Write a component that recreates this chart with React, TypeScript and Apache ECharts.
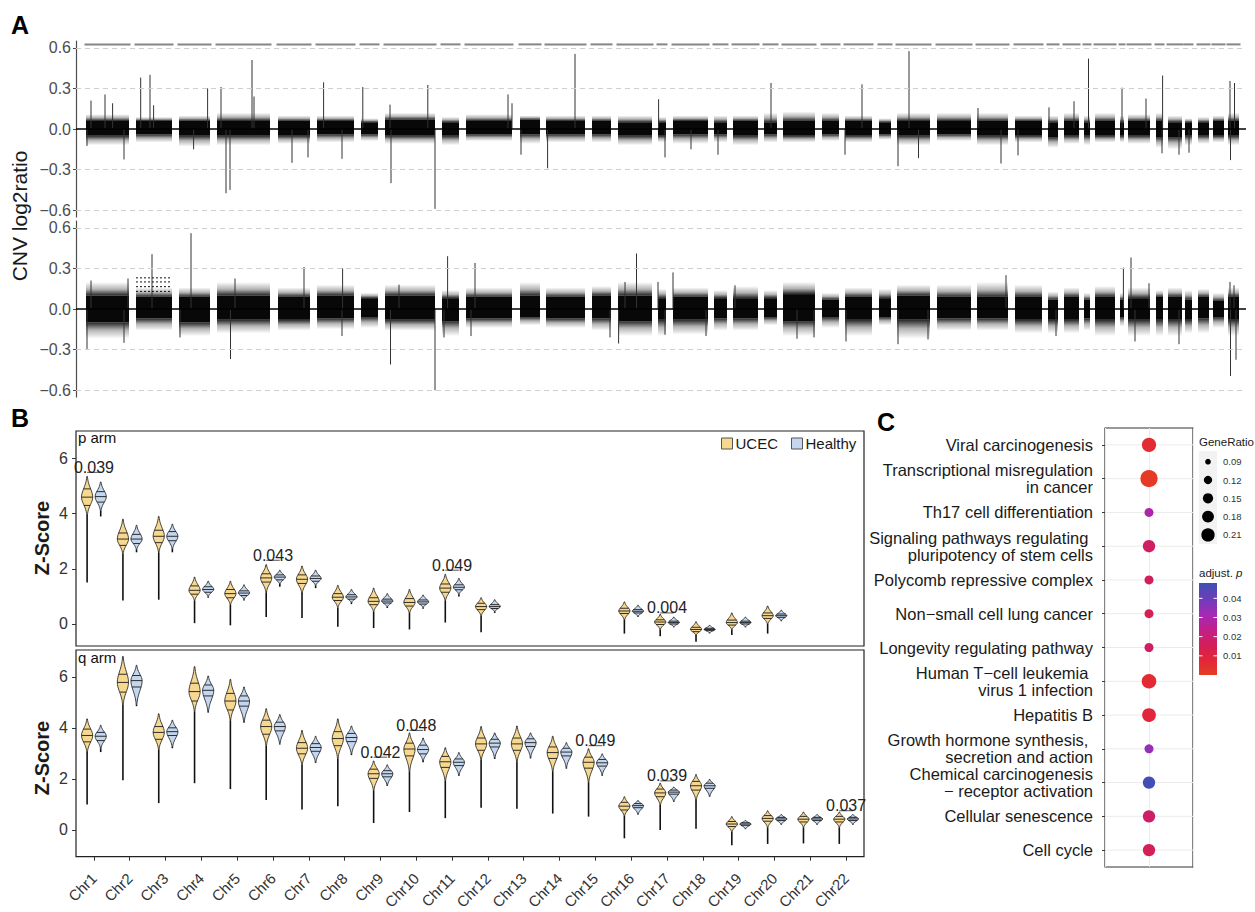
import React, { useEffect, useRef } from "react";
import * as echarts from "echarts";

const FONT = '"Liberation Sans", Arial, Helvetica, sans-serif';

// ---------------- Panel A : CNV log2ratio ----------------
const segStart = [10, 60, 103, 141, 202, 241, 285, 309, 366, 390, 444, 470, 516, 542, 582, 597, 638, 657, 688, 707, 746, 769, 803, 821, 861, 901, 939, 972, 988, 1008, 1019, 1044, 1052, 1080, 1092, 1109, 1122, 1137, 1152];
const segEnd = [53, 96, 134, 194, 234, 278, 302, 359, 383, 436, 464, 509, 535, 576, 590, 632, 651, 682, 701, 739, 763, 796, 815, 854, 895, 932, 966, 982, 1003, 1014, 1039, 1048, 1074, 1087, 1106, 1116, 1133, 1148, 1163];
// [outer low, core low, core high, outer high]
const topBand = [
  [-0.12, -0.05, 0.06, 0.11], [-0.1, -0.04, 0.06, 0.09], [-0.13, -0.05, 0.06, 0.1], [-0.12, -0.05, 0.06, 0.12],
  [-0.11, -0.05, 0.06, 0.1], [-0.1, -0.04, 0.06, 0.1], [-0.09, -0.04, 0.05, 0.08], [-0.11, -0.05, 0.07, 0.12],
  [-0.12, -0.05, 0.05, 0.09], [-0.09, -0.04, 0.06, 0.11], [-0.11, -0.04, 0.07, 0.1], [-0.1, -0.04, 0.06, 0.1],
  [-0.1, -0.04, 0.06, 0.1], [-0.12, -0.05, 0.05, 0.1], [-0.1, -0.05, 0.05, 0.09], [-0.11, -0.04, 0.06, 0.1],
  [-0.1, -0.04, 0.05, 0.1], [-0.12, -0.05, 0.06, 0.1], [-0.1, -0.04, 0.05, 0.12], [-0.1, -0.05, 0.06, 0.13],
  [-0.09, -0.04, 0.06, 0.12], [-0.1, -0.05, 0.06, 0.1], [-0.08, -0.04, 0.05, 0.08], [-0.12, -0.05, 0.06, 0.12],
  [-0.09, -0.04, 0.06, 0.12], [-0.12, -0.05, 0.06, 0.12], [-0.1, -0.05, 0.06, 0.1], [-0.14, -0.06, 0.05, 0.1],
  [-0.11, -0.05, 0.06, 0.12], [-0.12, -0.05, 0.05, 0.1], [-0.1, -0.05, 0.06, 0.12], [-0.1, -0.05, 0.05, 0.1],
  [-0.11, -0.05, 0.06, 0.11], [-0.14, -0.06, 0.06, 0.12], [-0.15, -0.06, 0.05, 0.1], [-0.12, -0.05, 0.05, 0.08],
  [-0.11, -0.05, 0.05, 0.09], [-0.1, -0.05, 0.06, 0.1], [-0.12, -0.05, 0.06, 0.12],
];
const bottomBand = [
  [-0.22, -0.1, 0.1, 0.2], [-0.16, -0.07, 0.09, 0.16], [-0.2, -0.1, 0.09, 0.16], [-0.18, -0.08, 0.1, 0.2],
  [-0.16, -0.08, 0.09, 0.16], [-0.15, -0.07, 0.1, 0.18], [-0.14, -0.06, 0.08, 0.12], [-0.16, -0.08, 0.1, 0.18],
  [-0.2, -0.09, 0.08, 0.14], [-0.14, -0.07, 0.09, 0.16], [-0.12, -0.06, 0.1, 0.2], [-0.14, -0.07, 0.09, 0.16],
  [-0.16, -0.07, 0.1, 0.17], [-0.2, -0.09, 0.1, 0.2], [-0.2, -0.08, 0.08, 0.15], [-0.19, -0.08, 0.09, 0.16],
  [-0.16, -0.07, 0.08, 0.14], [-0.16, -0.07, 0.08, 0.17], [-0.12, -0.06, 0.08, 0.14], [-0.2, -0.09, 0.11, 0.2],
  [-0.14, -0.06, 0.07, 0.12], [-0.2, -0.08, 0.09, 0.16], [-0.12, -0.06, 0.08, 0.15], [-0.22, -0.08, 0.1, 0.18],
  [-0.16, -0.07, 0.09, 0.18], [-0.16, -0.07, 0.09, 0.2], [-0.18, -0.08, 0.09, 0.18], [-0.18, -0.08, 0.07, 0.13],
  [-0.18, -0.08, 0.09, 0.16], [-0.16, -0.07, 0.07, 0.12], [-0.2, -0.08, 0.09, 0.17], [-0.13, -0.06, 0.07, 0.12],
  [-0.2, -0.08, 0.08, 0.16], [-0.2, -0.08, 0.09, 0.14], [-0.2, -0.08, 0.09, 0.16], [-0.18, -0.08, 0.07, 0.14],
  [-0.18, -0.07, 0.09, 0.15], [-0.14, -0.06, 0.06, 0.12], [-0.2, -0.08, 0.09, 0.16],
];
const topSpikes = [
  [15, 0.21], [29, 0.255], [36.6, 0.19], [11, -0.125], [48, -0.225], [64.7, 0.38], [74, 0.4], [77.6, 0.175],
  [131.6, 0.3], [117.6, -0.15], [145, 0.31], [150, -0.475], [154, -0.45], [176, 0.51], [178, 0.24],
  [216, -0.25], [232, -0.21], [247.6, 0.345], [266, -0.22], [286.8, 0.31], [314, 0.18], [315, -0.4],
  [351.8, 0.325], [359, -0.59], [432, 0.255], [436, 0.19], [445, -0.19], [499, 0.555], [471.6, -0.29],
  [582.6, 0.22], [589, -0.21], [615, -0.15], [642, -0.19], [695, 0.34], [769, -0.19], [786, 0.33],
  [822, -0.275], [833, 0.575], [842.5, -0.215], [902, 0.155], [925, -0.255], [942, -0.195], [973, 0.16],
  [998, 0.205], [1012.5, 0.52], [1046, 0.305], [1070, 0.225], [1086.6, 0.395], [1086, -0.18],
  [1103, -0.19], [1113, -0.175], [1154, 0.355], [1154.5, -0.23], [1158.5, 0.34],
];
const bottomSpikes = [
  [11, -0.295], [15, 0.21], [48, -0.25], [52, 0.225], [76, 0.405], [115, 0.56], [104, -0.21],
  [154.5, -0.37], [159, 0.225], [228, 0.31], [266.6, 0.3], [266, -0.2], [314.5, -0.41], [323, 0.18],
  [359, -0.6], [371.6, 0.39], [368, -0.21], [399, 0.34], [395, -0.2], [534, -0.21], [542.6, -0.255],
  [560.5, 0.41], [549, 0.2], [582, 0.2], [589, -0.19], [597, 0.27], [630, -0.2], [659, 0.175],
  [721, -0.22], [738, -0.21], [770, -0.24], [822, -0.26], [852, -0.225], [930, 0.25], [980, -0.2],
  [1047.4, 0.305], [1055, 0.38], [1059, -0.24], [1073, 0.19], [1103, -0.26], [1154, 0.2],
  [1154.5, -0.495], [1158, 0.175], [1160, -0.375],
];
const bottomClusterSeg = 1;
const bottomClusterLevels = [0.13, 0.165, 0.2, 0.23];
const cnvTicks = [-0.6, -0.3, 0, 0.3, 0.6];
const cnvGrid = [0.6, 0.3, -0.3, -0.6];

// ---------------- Panel B : Z-Score violins ----------------
const chromosomes = ["Chr1", "Chr2", "Chr3", "Chr4", "Chr5", "Chr6", "Chr7", "Chr8", "Chr9", "Chr10", "Chr11", "Chr12", "Chr13", "Chr14", "Chr15", "Chr16", "Chr17", "Chr18", "Chr19", "Chr20", "Chr21", "Chr22"];
// [top, q3, median, q1, body bottom, tail end]
const pUcec = [
  [5.35, 4.9, 4.6, 4.3, 3.95, 1.5], [3.8, 3.3, 3.08, 2.85, 2.55, 0.85], [3.9, 3.4, 3.18, 2.95, 2.6, 0.88],
  [1.7, 1.38, 1.22, 1.08, 0.85, 0.03], [1.55, 1.25, 1.1, 0.95, 0.7, -0.05], [2.15, 1.82, 1.67, 1.52, 1.15, 0.25],
  [2.1, 1.78, 1.62, 1.47, 1.12, 0.22], [1.4, 1.1, 0.97, 0.85, 0.6, -0.1], [1.3, 0.95, 0.82, 0.7, 0.45, -0.15],
  [1.25, 0.92, 0.78, 0.65, 0.4, -0.2], [1.8, 1.45, 1.3, 1.15, 0.85, 0.05], [0.95, 0.75, 0.63, 0.52, 0.3, -0.3],
  null, null, null,
  [0.8, 0.57, 0.47, 0.38, 0.15, -0.35], [0.35, 0.15, 0.07, -0.02, -0.2, -0.45], [0.08, -0.12, -0.2, -0.28, -0.4, -0.65],
  [0.4, 0.14, 0.05, -0.04, -0.2, -0.4], [0.65, 0.4, 0.3, 0.2, 0.0, -0.35], null, null,
];
const pHealthy = [
  [5.15, 4.8, 4.62, 4.42, 4.1, 3.9], [3.58, 3.25, 3.08, 2.92, 2.7, 2.6], [3.62, 3.35, 3.18, 3.02, 2.72, 2.6],
  [1.55, 1.35, 1.25, 1.15, 1.0, 0.95], [1.42, 1.2, 1.12, 1.03, 0.9, 0.85], [1.95, 1.78, 1.7, 1.6, 1.45, 1.35],
  [1.95, 1.74, 1.65, 1.55, 1.4, 1.3], [1.25, 1.06, 0.98, 0.9, 0.78, 0.72], [1.1, 0.9, 0.83, 0.76, 0.62, 0.58],
  [1.05, 0.87, 0.8, 0.72, 0.6, 0.55], [1.65, 1.42, 1.33, 1.24, 1.08, 1.0], [0.88, 0.7, 0.63, 0.56, 0.45, 0.4],
  null, null, null,
  [0.68, 0.52, 0.46, 0.4, 0.28, 0.25], [0.25, 0.1, 0.05, 0.0, -0.1, -0.12], [-0.05, -0.16, -0.2, -0.24, -0.32, -0.34],
  [0.25, 0.1, 0.05, 0.0, -0.1, -0.12], [0.5, 0.36, 0.3, 0.24, 0.12, 0.1], null, null,
];
const qUcec = [
  [4.35, 3.95, 3.7, 3.45, 3.05, 1.0], [6.8, 6.1, 5.78, 5.4, 4.9, 1.95], [4.55, 4.05, 3.82, 3.55, 3.15, 1.05],
  [6.4, 5.75, 5.42, 5.05, 4.65, 1.83], [5.9, 5.35, 5.05, 4.7, 4.3, 1.6], [4.75, 4.3, 4.05, 3.75, 3.3, 1.17],
  [3.9, 3.42, 3.2, 2.98, 2.55, 0.8], [4.35, 3.85, 3.58, 3.3, 2.8, 0.93], [2.7, 2.38, 2.2, 2.02, 1.55, 0.27],
  [3.8, 3.4, 3.17, 2.9, 2.3, 0.7], [3.22, 2.88, 2.67, 2.45, 1.92, 0.46], [4.05, 3.6, 3.37, 3.12, 2.75, 0.87],
  [4.07, 3.6, 3.37, 3.12, 2.67, 0.83], [3.67, 3.25, 3.03, 2.8, 2.3, 0.64], [3.18, 2.85, 2.65, 2.42, 1.87, 0.52],
  [1.3, 1.08, 0.93, 0.78, 0.55, -0.33], [1.83, 1.6, 1.45, 1.3, 0.98, 0.0], [2.17, 1.9, 1.73, 1.56, 1.17, 0.04],
  [0.52, 0.33, 0.23, 0.13, -0.07, -0.6], [0.75, 0.56, 0.45, 0.34, 0.1, -0.55], [0.7, 0.53, 0.42, 0.31, 0.1, -0.53],
  [0.7, 0.53, 0.42, 0.31, 0.1, -0.55],
];
const qHealthy = [
  [4.1, 3.82, 3.67, 3.5, 3.2, 3.05], [6.45, 6.05, 5.85, 5.6, 4.9, 4.85], [4.3, 4.0, 3.85, 3.7, 3.25, 3.2],
  [6.03, 5.68, 5.47, 5.25, 4.62, 4.6], [5.6, 5.25, 5.05, 4.85, 4.22, 4.2], [4.52, 4.22, 4.05, 3.88, 3.38, 3.35],
  [3.67, 3.38, 3.23, 3.08, 2.65, 2.62], [4.07, 3.78, 3.62, 3.46, 2.97, 2.93], [2.55, 2.32, 2.2, 2.08, 1.75, 1.72],
  [3.6, 3.32, 3.15, 2.98, 2.7, 2.65], [3.03, 2.78, 2.65, 2.52, 2.15, 2.12], [3.8, 3.55, 3.4, 3.25, 2.82, 2.78],
  [3.8, 3.57, 3.42, 3.27, 2.85, 2.8], [3.42, 3.2, 3.05, 2.9, 2.45, 2.4], [2.98, 2.76, 2.63, 2.5, 2.17, 2.12],
  [1.15, 1.03, 0.95, 0.87, 0.62, 0.6], [1.68, 1.56, 1.48, 1.4, 1.12, 1.1], [1.98, 1.83, 1.73, 1.63, 1.32, 1.3],
  [0.37, 0.28, 0.23, 0.18, 0.05, 0.03], [0.6, 0.49, 0.43, 0.37, 0.22, 0.2], [0.6, 0.49, 0.43, 0.37, 0.22, 0.2],
  [0.6, 0.49, 0.43, 0.37, 0.22, 0.2],
];
const pSigChr = [0, 5, 10, 16];
const pSigY = [5.5, 2.31, 1.95, 0.4];
const pSigLabel = ["0.039", "0.043", "0.049", "0.004"];
const qSigChr = [8, 9, 14, 16, 21];
const qSigY = [2.85, 3.9, 3.3, 1.92, 0.75];
const qSigLabel = ["0.042", "0.048", "0.049", "0.039", "0.037"];
const zTicks = [0, 2, 4, 6];

// ---------------- Panel C : KEGG enrichment ----------------
const pathways = [
  "Viral carcinogenesis",
  "Transcriptional misregulation\nin cancer",
  "Th17 cell differentiation",
  "Signaling pathways regulating \npluripotency of stem cells",
  "Polycomb repressive complex",
  "Non\u2212small cell lung cancer",
  "Longevity regulating pathway",
  "Human T\u2212cell leukemia \nvirus 1 infection",
  "Hepatitis B",
  "Growth hormone synthesis, \nsecretion and action",
  "Chemical carcinogenesis\n\u2212 receptor activation",
  "Cellular senescence",
  "Cell cycle",
];
const geneRatio = [0.23, 0.31, 0.13, 0.19, 0.13, 0.13, 0.13, 0.24, 0.22, 0.13, 0.19, 0.19, 0.19];
const padj = [0.006, 0.001, 0.029, 0.017, 0.016, 0.014, 0.017, 0.006, 0.008, 0.034, 0.047, 0.018, 0.015];
const geneRatioBreaks = [0.09, 0.12, 0.15, 0.18, 0.21];
const padjBreaks = [0.04, 0.03, 0.02, 0.01];
const padjMax = 0.048;
const padjColors = ["#E53D22", "#E2253A", "#D21E5C", "#C11F8C", "#A22AB6", "#6C3DBA", "#3D51B3"];

const UCEC_FILL = "#F7D890";
const HEALTHY_FILL = "#C4D7EE";

const dotSize = (r: number) => Math.sqrt(32.5 + (r - 0.09) * 1204);
const fmtCnv = (v: number) => (v < 0 ? "\u2212" : "") + Math.abs(v).toFixed(1);

function violinRender(side: number, fill: string) {
  return (params: any, api: any) => {
    const ci = api.value(0);
    const top = api.value(1), q3 = api.value(2), med = api.value(3), q1 = api.value(4), bot = api.value(5), tail = api.value(6);
    const band = api.size([1, 0])[0];
    const cx = api.coord([ci, med])[0] + side * band * 0.19;
    const Y = (v: number) => api.coord([ci, v])[1];
    const W = 5.6;
    const sUp = (top - med) / 2.4, sDn = (med - bot) / 2.4;
    const hw = (v: number) => {
      const s = v >= med ? sUp : sDn;
      const z = s > 0 ? (v - med) / s : 0;
      return W * Math.exp(-0.5 * z * z);
    };
    const right: number[][] = [];
    const N = 10;
    for (let i = 0; i <= N; i++) { const v = bot + ((med - bot) * i) / N; right.push([cx + hw(v), Y(v)]); }
    for (let i = 1; i <= N; i++) { const v = med + ((top - med) * i) / N; right.push([cx + hw(v), Y(v)]); }
    const pts = right.concat(right.slice().reverse().map((p) => [2 * cx - p[0], p[1]]));
    const children: any[] = [
      { type: "line", shape: { x1: cx, y1: Y(bot), x2: cx, y2: Y(tail) }, style: { stroke: "#111", lineWidth: 1.6 } },
      { type: "polygon", shape: { points: pts }, style: { fill, stroke: "#1a1a1a", lineWidth: 0.8 } },
    ];
    [q1, med, q3].forEach((v) => {
      const w = hw(v);
      children.push({ type: "line", shape: { x1: cx - w, y1: Y(v), x2: cx + w, y2: Y(v) }, style: { stroke: "#1a1a1a", lineWidth: 0.9 } });
    });
    return { type: "group", children };
  };
}

function sigRender(labels: string[]) {
  return (params: any, api: any) => {
    const ci = api.value(0);
    const y = api.value(1);
    const band = api.size([1, 0])[0];
    const p = api.coord([ci, y]);
    const dx = band * 0.19;
    return {
      type: "group",
      children: [
        { type: "line", shape: { x1: p[0] - dx, y1: p[1], x2: p[0] + dx, y2: p[1] }, style: { stroke: "#555", lineWidth: 1 } },
        {
          type: "text", x: p[0], y: p[1] + 3,
          style: { text: labels[params.dataIndex], fontSize: 16, fontFamily: FONT, fill: "#222", align: "center", textAlign: "center", verticalAlign: "bottom", textVerticalAlign: "bottom" },
        },
      ],
    };
  };
}

const fadeUp = { type: "linear", x: 0, y: 0, x2: 0, y2: 1, colorStops: [{ offset: 0, color: "rgba(0,0,0,0)" }, { offset: 0.55, color: "rgba(0,0,0,0.3)" }, { offset: 1, color: "rgba(0,0,0,0.85)" }] };
const fadeDown = { type: "linear", x: 0, y: 0, x2: 0, y2: 1, colorStops: [{ offset: 0, color: "rgba(0,0,0,0.85)" }, { offset: 0.45, color: "rgba(0,0,0,0.3)" }, { offset: 1, color: "rgba(0,0,0,0)" }] };

function bandRender(params: any, api: any) {
  const s = api.value(0), e = api.value(1), lo2 = api.value(2), lo = api.value(3), hi = api.value(4), hi2 = api.value(5);
  const xs = api.coord([s, 0])[0], xe = api.coord([e, 0])[0];
  const yHi2 = api.coord([s, hi2])[1], yHi = api.coord([s, hi])[1], yLo = api.coord([s, lo])[1], yLo2 = api.coord([s, lo2])[1];
  return {
    type: "group",
    children: [
      { type: "rect", shape: { x: xs, y: yHi2, width: xe - xs, height: yHi - yHi2 }, style: { fill: fadeUp } },
      { type: "rect", shape: { x: xs, y: yLo, width: xe - xs, height: yLo2 - yLo }, style: { fill: fadeDown } },
      { type: "rect", shape: { x: xs, y: yHi, width: xe - xs, height: yLo - yHi }, style: { fill: "#080808" } },
    ],
  };
}

function spikeRender(params: any, api: any) {
  const a = api.coord([api.value(0), 0]);
  const b = api.coord([api.value(0), api.value(1)]);
  return { type: "line", shape: { x1: a[0], y1: a[1], x2: b[0], y2: b[1] }, style: { stroke: "#333", lineWidth: 1 } };
}

function hlineRender(dash: number[] | null, color: string, width: number, pad: number) {
  return (params: any, api: any) => {
    const a = api.coord([api.value(0), api.value(2)]);
    const b = api.coord([api.value(1), api.value(2)]);
    return { type: "line", shape: { x1: a[0] - pad, y1: a[1], x2: b[0] + pad, y2: b[1] }, style: { stroke: color, lineWidth: width, lineDash: dash || undefined } };
  };
}

function buildOption() {
  const bandData = (bands: number[][]) => segStart.map((s, i) => [s, segEnd[i], bands[i][0], bands[i][1], bands[i][2], bands[i][3]]);
  const gridMarks = {
    silent: true,
    symbol: ["none", "none"],
    label: { show: false },
    data: [
      ...cnvGrid.map((v) => ({ yAxis: v, lineStyle: { color: "#CFCFCF", type: [5, 4], width: 1 } })),
      { yAxis: 0, lineStyle: { color: "#000", type: "solid", width: 1.6 } },
    ],
  };
  const violinData = (arr: (number[] | null)[]) => arr.map((r, i) => (r ? [i, ...r] : null)).filter((r) => r) as number[][];

  const series: any[] = [];
  // Panel A top
  series.push({ type: "custom", name: "bandTop", xAxisIndex: 0, yAxisIndex: 0, renderItem: bandRender, data: bandData(topBand), encode: { x: [0, 1], y: [2, 5] }, silent: true, markLine: gridMarks, z: 2 });
  series.push({ type: "custom", name: "spikeTop", xAxisIndex: 0, yAxisIndex: 0, renderItem: spikeRender, data: topSpikes, encode: { x: 0, y: 1 }, silent: true, z: 3 });
  series.push({ type: "custom", name: "chromTop", xAxisIndex: 0, yAxisIndex: 0, renderItem: hlineRender(null, "#858585", 2, 1.5), data: segStart.map((s, i) => [s, segEnd[i], 0.625]), encode: { x: [0, 1], y: 2 }, silent: true, z: 3 });
  // Panel A bottom
  series.push({ type: "custom", name: "bandBottom", xAxisIndex: 1, yAxisIndex: 1, renderItem: bandRender, data: bandData(bottomBand), encode: { x: [0, 1], y: [2, 5] }, silent: true, markLine: gridMarks, z: 2 });
  series.push({ type: "custom", name: "spikeBottom", xAxisIndex: 1, yAxisIndex: 1, renderItem: spikeRender, data: bottomSpikes, encode: { x: 0, y: 1 }, silent: true, z: 3 });
  series.push({
    type: "custom", name: "clusterBottom", xAxisIndex: 1, yAxisIndex: 1, renderItem: hlineRender([2, 2], "#111", 1, 0),
    data: bottomClusterLevels.map((v) => [segStart[bottomClusterSeg], segEnd[bottomClusterSeg], v]), encode: { x: [0, 1], y: 2 }, silent: true, z: 3,
  });
  // Panel B
  series.push({ type: "custom", name: "UCEC", xAxisIndex: 2, yAxisIndex: 2, renderItem: violinRender(-1, UCEC_FILL), data: violinData(pUcec), encode: { x: 0, y: [1, 6] }, itemStyle: { color: UCEC_FILL }, silent: true, z: 3 });
  series.push({ type: "custom", name: "Healthy", xAxisIndex: 2, yAxisIndex: 2, renderItem: violinRender(1, HEALTHY_FILL), data: violinData(pHealthy), encode: { x: 0, y: [1, 6] }, itemStyle: { color: HEALTHY_FILL }, silent: true, z: 3 });
  series.push({ type: "custom", name: "sigP", xAxisIndex: 2, yAxisIndex: 2, renderItem: sigRender(pSigLabel), data: pSigChr.map((c, i) => [c, pSigY[i]]), encode: { x: 0, y: 1 }, silent: true, z: 4 });
  series.push({ type: "custom", name: "UCEC", xAxisIndex: 3, yAxisIndex: 3, renderItem: violinRender(-1, UCEC_FILL), data: violinData(qUcec), encode: { x: 0, y: [1, 6] }, itemStyle: { color: UCEC_FILL }, silent: true, z: 3 });
  series.push({ type: "custom", name: "Healthy", xAxisIndex: 3, yAxisIndex: 3, renderItem: violinRender(1, HEALTHY_FILL), data: violinData(qHealthy), encode: { x: 0, y: [1, 6] }, itemStyle: { color: HEALTHY_FILL }, silent: true, z: 3 });
  series.push({ type: "custom", name: "sigQ", xAxisIndex: 3, yAxisIndex: 3, renderItem: sigRender(qSigLabel), data: qSigChr.map((c, i) => [c, qSigY[i]]), encode: { x: 0, y: 1 }, silent: true, z: 4 });
  // Panel C
  series.push({
    type: "custom", name: "gridC", xAxisIndex: 4, yAxisIndex: 4, silent: true, z: 1,
    renderItem: (params: any, api: any) => {
      const cs = params.coordSys;
      const y = api.coord([1, api.value(0)])[1];
      return { type: "line", shape: { x1: cs.x, y1: y, x2: cs.x + cs.width, y2: y }, style: { stroke: "#EBEBEB", lineWidth: 1 } };
    },
    data: pathways.map((_, i) => [i]), encode: { y: 0 },
  });
  const scatterIndex = series.length;
  series.push({
    type: "scatter", name: "kegg", xAxisIndex: 4, yAxisIndex: 4, silent: true, z: 5,
    data: pathways.map((_, i) => [1, i, geneRatio[i], padj[i]]),
    encode: { x: 0, y: 1 },
    symbolSize: (v: number[]) => dotSize(v[2]),
    itemStyle: { opacity: 1 },
  });

  // graphic
  const g: any[] = [];
  const txt = (text: string, x: number, y: number, font: string, fill: string, align = "left", valign = "middle", rotation = 0) => ({
    type: "text", x, y, rotation, silent: true,
    style: { text, font, fill, textAlign: align, align, textVerticalAlign: valign, verticalAlign: valign },
  });
  g.push(txt("A", 11, 25, `bold 25px ${FONT}`, "#000"));
  g.push(txt("B", 11, 418, `bold 25px ${FONT}`, "#000"));
  g.push(txt("C", 877, 422, `bold 25px ${FONT}`, "#000"));
  g.push(txt("CNV log2ratio", 19, 216, `21px ${FONT}`, "#1a1a1a", "center", "middle", Math.PI / 2));
  g.push(txt("Z-Score", 42, 538, `bold 20px ${FONT}`, "#1a1a1a", "center", "middle", Math.PI / 2));
  g.push(txt("Z-Score", 42, 758, `bold 20px ${FONT}`, "#1a1a1a", "center", "middle", Math.PI / 2));
  g.push(txt("p arm", 78, 437, `15px ${FONT}`, "#111"));
  g.push(txt("q arm", 78, 657, `15px ${FONT}`, "#111"));
  // GeneRatio legend
  g.push(txt("GeneRatio", 1199, 442, `11.5px ${FONT}`, "#1a1a1a"));
  g.push({ type: "rect", silent: true, shape: { x: 1199, y: 451, width: 18, height: 93 }, style: { fill: "#F2F2F2" } });
  geneRatioBreaks.forEach((r, i) => {
    const y = 461.7 + i * 18.3;
    g.push({ type: "circle", silent: true, shape: { cx: 1208, cy: y, r: dotSize(r) / 2 }, style: { fill: "#000" } });
    g.push(txt(r.toFixed(2), 1223, y, `9.5px ${FONT}`, "#333"));
  });
  // adjust. p colorbar
  g.push({
    type: "text", x: 1199, y: 573, silent: true,
    style: {
      text: "{a|adjust. }{b|p}", fill: "#1a1a1a", textVerticalAlign: "middle", verticalAlign: "middle",
      rich: { a: { fontSize: 11.5, fontFamily: FONT, fill: "#1a1a1a" }, b: { fontSize: 11.5, fontFamily: FONT, fontStyle: "italic", fill: "#1a1a1a" } },
    },
  });
  const cbTop = 583, cbH = 92, cbX = 1199, cbW = 18;
  const stops = padjColors.map((c, i) => ({ offset: 1 - i / (padjColors.length - 1), color: c })).reverse();
  g.push({ type: "rect", silent: true, shape: { x: cbX, y: cbTop, width: cbW, height: cbH }, style: { fill: { type: "linear", x: 0, y: 0, x2: 0, y2: 1, colorStops: stops } } });
  padjBreaks.forEach((v) => {
    const y = cbTop + ((padjMax - v) / padjMax) * cbH;
    g.push({ type: "line", silent: true, shape: { x1: cbX, y1: y, x2: cbX + 3.5, y2: y }, style: { stroke: "#fff", lineWidth: 1 } });
    g.push({ type: "line", silent: true, shape: { x1: cbX + cbW - 3.5, y1: y, x2: cbX + cbW, y2: y }, style: { stroke: "#fff", lineWidth: 1 } });
    g.push(txt(v.toFixed(2), 1223, y, `9.5px ${FONT}`, "#333"));
  });

  const hiddenValueX = (gi: number) => ({ gridIndex: gi, type: "value", min: 0, max: 1170, show: false });
  const cnvY = (gi: number) => ({
    gridIndex: gi, type: "value", min: -0.65, max: 0.65, splitLine: { show: false },
    axisLine: { show: true, onZero: false, lineStyle: { color: "#4d4d4d", width: 1.2 } },
    axisTick: { show: true, customValues: cnvTicks, length: 3, lineStyle: { color: "#4d4d4d" } },
    axisLabel: { customValues: cnvTicks, formatter: fmtCnv, fontSize: 16, color: "#4d4d4d", margin: 5, fontFamily: FONT },
  });
  const zY = (gi: number, min: number, max: number) => ({
    gridIndex: gi, type: "value", min, max, splitLine: { show: false },
    axisLine: { show: false, onZero: false },
    axisTick: { show: true, customValues: zTicks, length: 4, lineStyle: { color: "#333" } },
    axisLabel: { customValues: zTicks, fontSize: 16, color: "#333", margin: 8, fontFamily: FONT },
  });

  return {
    animation: false,
    backgroundColor: "#fff",
    textStyle: { fontFamily: FONT },
    grid: [
      { left: 76, top: 41, width: 1170, height: 176 },
      { left: 76, top: 221, width: 1170, height: 176 },
      { left: 76, top: 431, width: 788, height: 215, show: true, borderColor: "#222", borderWidth: 1.2, backgroundColor: "transparent" },
      { left: 76, top: 650, width: 788, height: 216, show: true, borderColor: "#222", borderWidth: 1.2, backgroundColor: "transparent" },
      { left: 1105, top: 428, width: 88, height: 439, show: true, borderColor: "#333", borderWidth: 1.2, backgroundColor: "transparent" },
    ],
    xAxis: [
      hiddenValueX(0),
      hiddenValueX(1),
      { gridIndex: 2, type: "category", data: chromosomes, axisLine: { show: false, onZero: false }, axisTick: { show: false }, axisLabel: { show: false }, splitLine: { show: false } },
      {
        gridIndex: 3, type: "category", data: chromosomes, axisLine: { show: false, onZero: false },
        axisTick: { show: true, alignWithLabel: true, length: 4, lineStyle: { color: "#333" } },
        axisLabel: { interval: 0, rotate: 45, fontSize: 15, color: "#333", margin: 19, fontFamily: FONT }, splitLine: { show: false },
      },
      {
        gridIndex: 4, type: "value", min: 0, max: 2, interval: 1, axisLine: { show: false, onZero: false }, axisTick: { show: false }, axisLabel: { show: false },
        splitLine: { show: true, lineStyle: { color: "#EBEBEB", width: 1 } },
      },
    ],
    yAxis: [
      cnvY(0),
      cnvY(1),
      zY(2, -0.8, 7.0),
      zY(3, -1.05, 7.05),
      {
        gridIndex: 4, type: "category", inverse: true, data: pathways, axisLine: { show: false, onZero: false },
        axisTick: { show: true, alignWithLabel: true, length: 3, lineStyle: { color: "#333" } },
        axisLabel: { interval: 0, fontSize: 16.5, color: "#1a1a1a", lineHeight: 17, margin: 12, fontFamily: FONT },
        splitLine: { show: false },
      },
    ],
    legend: {
      data: [
        { name: "UCEC", icon: "rect", itemStyle: { color: UCEC_FILL, borderColor: "#555", borderWidth: 1 } },
        { name: "Healthy", icon: "rect", itemStyle: { color: HEALTHY_FILL, borderColor: "#555", borderWidth: 1 } },
      ],
      left: 721, top: 436, padding: 0, itemWidth: 11, itemHeight: 11, itemGap: 13, selectedMode: false,
      textStyle: { fontSize: 15, color: "#1a1a1a", fontFamily: FONT, padding: [0, 0, 0, -2] },
    },
    visualMap: {
      type: "continuous", show: false, seriesIndex: scatterIndex, dimension: 3, min: 0, max: padjMax,
      inRange: { color: padjColors },
    },
    graphic: { elements: g },
    series,
  };
}

export default function App() {
  const ref = useRef<HTMLDivElement>(null);
  useEffect(() => {
    const chart = echarts.init(ref.current as HTMLDivElement, undefined, { renderer: "svg" });
    chart.setOption(buildOption() as any);
    return () => chart.dispose();
  }, []);
  return <div ref={ref} style={{ position: "absolute", left: 0, top: 0, width: 1255, height: 912, background: "#fff" }} />;
}
